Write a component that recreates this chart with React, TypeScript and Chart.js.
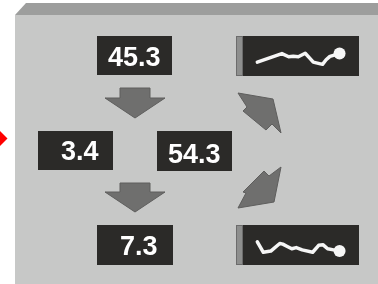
import React, { useEffect, useRef } from "react";
import { Chart, registerables } from "chart.js";
Chart.register(...registerables);

// ---- data ----
const stageValues = ["45.3", "3.4", "54.3", "7.3"];
const topTrendX = [9.3, 36.7, 44.3, 49.3, 55, 62.7, 67.7, 71.7, 82, 86, 90.3, 101];
const topTrendY = [10, 22.3, 17.7, 18.3, 17.7, 22.7, 15.7, 10, 6.7, 13.3, 18.3, 22.3];
const bottomTrendX = [9.3, 16, 24.3, 34.3, 37.7, 42.7, 47.7, 52.7, 59.3, 71, 77.7, 82.7, 87.7, 94.3, 101];
const bottomTrendY = [23.3, 8.3, 10, 21, 20, 16.7, 13.3, 15, 11.7, 8.3, 18.3, 19, 13.3, 11.7, 10];

// ---- layout (page coordinates) ----
const W = 378;
const H = 284;
const boxes = [
  { x0: 97, y0: 36, x1: 172, y1: 75, tx: 160.5, ty: 65.5 },
  { x0: 38, y0: 131, x1: 113, y1: 170, tx: 98.5, ty: 159.5 },
  { x0: 157, y0: 131, x1: 232, y1: 171, tx: 220.5, ty: 163 },
  { x0: 97, y0: 225, x1: 173, y1: 265, tx: 157.5, ty: 254.5 },
];
const arrows: number[][][] = [
  [[120, 88], [150, 88], [150, 98], [165, 98], [135, 118], [105, 98], [120, 98]],
  [[120, 183], [150, 183], [150, 192], [165, 192], [135, 212], [105, 192], [120, 192]],
  [[273, 99], [281, 133], [272, 124], [266, 130], [243, 111], [247, 107], [238, 93]],
  [[281, 167], [274, 202], [238, 208], [246, 193], [243, 192], [264, 171], [269, 176]],
];
const sparkBoxes = [
  { x0: 243, y0: 36, w: 116, h: 39 },
  { x0: 243, y0: 225, w: 116, h: 39 },
];

const diagramPlugin = {
  id: "diagram",
  beforeDatasetsDraw(chart: any) {
    const ctx = chart.ctx;
    const sx = chart.scales.x;
    const sy = chart.scales.y;
    const px = (v: number) => sx.getPixelForValue(v);
    const py = (v: number) => sy.getPixelForValue(v);
    const poly = (pts: number[][], fill: string, stroke?: string) => {
      ctx.beginPath();
      pts.forEach((p, i) => (i ? ctx.lineTo(px(p[0]), py(p[1])) : ctx.moveTo(px(p[0]), py(p[1]))));
      ctx.closePath();
      ctx.fillStyle = fill;
      ctx.fill();
      if (stroke) {
        ctx.strokeStyle = stroke;
        ctx.lineWidth = 1;
        ctx.stroke();
      }
    };
    ctx.save();
    // panel
    poly([[15, 15], [26, 3], [W, 3], [W, 15]], "#9d9e9d");
    poly([[15, 15], [W, 15], [W, H], [15, H]], "#c7c8c7");
    // red marker
    poly([[-10, 138.5], [-1, 130], [7.5, 138.5], [-1, 147]], "#ff0000");
    // arrows
    arrows.forEach((a) => poly(a, "#6f6f6e", "#5e5e5d"));
    // sparkline frames
    sparkBoxes.forEach((b) => {
      ctx.fillStyle = "#8e8f8e";
      ctx.fillRect(px(b.x0 - 7), py(b.y0), 7, b.h + 1);
      ctx.strokeStyle = "#6c6c6c";
      ctx.lineWidth = 1;
      ctx.strokeRect(px(b.x0 - 7) + 0.5, py(b.y0) + 0.5, 6, b.h);
      ctx.fillStyle = "#2b2a28";
      ctx.fillRect(px(b.x0), py(b.y0), b.w, b.h + 1);
    });
    // value boxes
    ctx.font = "bold 27px Arial, 'Liberation Sans', sans-serif";
    ctx.textAlign = "right";
    ctx.textBaseline = "alphabetic";
    boxes.forEach((b, i) => {
      ctx.fillStyle = "#2b2a28";
      ctx.fillRect(px(b.x0), py(b.y0), px(b.x1) - px(b.x0), py(b.y1) - py(b.y0));
      ctx.fillStyle = "#ffffff";
      ctx.fillText(stageValues[i], px(b.tx), py(b.ty));
    });
    ctx.restore();
  },
};

function Spark({ xs, ys, box }: { xs: number[]; ys: number[]; box: any }) {
  const ref = useRef<HTMLCanvasElement>(null);
  useEffect(() => {
    const chart = new Chart(ref.current!, {
      type: "line",
      data: {
        datasets: [
          {
            data: xs.map((x, i) => ({ x, y: ys[i] })),
            borderColor: "#f6f6f6",
            borderWidth: 3.5,
            borderJoinStyle: "round",
            borderCapStyle: "round",
            tension: 0,
            pointRadius: xs.map((_, i) => (i === xs.length - 1 ? 6 : 0)),
            pointBackgroundColor: "#f6f6f6",
            pointBorderWidth: 0,
          },
        ],
      },
      options: {
        animation: false,
        responsive: false,
        devicePixelRatio: 1,
        layout: { padding: 0 },
        plugins: { legend: { display: false }, tooltip: { enabled: false } },
        scales: {
          x: { type: "linear", min: 0, max: box.w, display: false },
          y: { type: "linear", min: 0, max: box.h, display: false },
        },
      } as any,
    });
    return () => chart.destroy();
  }, []);
  return (
    <canvas
      ref={ref}
      width={box.w}
      height={box.h}
      style={{ position: "absolute", left: box.x0, top: box.y0, width: box.w, height: box.h, background: "#2b2a28" }}
    />
  );
}

export default function App() {
  const ref = useRef<HTMLCanvasElement>(null);
  useEffect(() => {
    const chart = new Chart(ref.current!, {
      type: "scatter",
      data: { datasets: [{ data: [] }] },
      options: {
        animation: false,
        responsive: false,
        devicePixelRatio: 1,
        layout: { padding: 0 },
        plugins: { legend: { display: false }, tooltip: { enabled: false } },
        scales: {
          x: { type: "linear", min: 0, max: W, display: false },
          y: { type: "linear", min: 0, max: H, reverse: true, display: false },
        },
      } as any,
      plugins: [diagramPlugin],
    });
    return () => chart.destroy();
  }, []);
  return (
    <div style={{ position: "fixed", left: 0, top: 0, width: W, height: H, background: "#ffffff", overflow: "hidden" }}>
      <canvas ref={ref} width={W} height={H} style={{ position: "absolute", left: 0, top: 0, width: W, height: H }} />
      <Spark xs={topTrendX} ys={topTrendY} box={sparkBoxes[0]} />
      <Spark xs={bottomTrendX} ys={bottomTrendY} box={sparkBoxes[1]} />
    </div>
  );
}
